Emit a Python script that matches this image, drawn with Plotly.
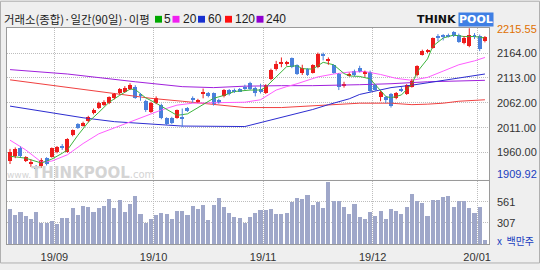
import plotly.graph_objects as go

# ---------------- data ----------------
OPEN = [1942, 1952, 1968, 1943, 1937, 1930, 1931, 1948, 1951, 1961,
        1972, 1961, 1995, 2018, 2015, 2025, 2041, 2051, 2057, 2061,
        2071, 2081, 2085, 2090, 2095, 2080, 2066, 2043, 2061, 2058,
        2030, 2031, 2031, 2033, 2051, 2071, 2064, 2080, 2081, 2081,
        2068, 2075, 2088, 2089, 2090, 2094, 2103, 2093, 2091, 2082,
        2110, 2131, 2142, 2142, 2153, 2139, 2124, 2131, 2124, 2135,
        2161, 2149, 2139, 2121, 2098, 2118, 2128, 2133, 2121, 2126,
        2098, 2073, 2073, 2080, 2071, 2090, 2080, 2095, 2118, 2161,
        2167, 2175, 2199, 2200, 2202, 2207, 2202, 2185, 2178, 2200,
        2200, 2188]
HIGH = [1967, 1970, 1972, 1952, 1945, 1934, 1948, 1950, 1970, 1973,
        1977, 1989, 2007, 2020, 2023, 2035, 2050, 2064, 2067, 2075,
        2082, 2092, 2096, 2102, 2098, 2082, 2068, 2064, 2075, 2060,
        2032, 2033, 2048, 2050, 2053, 2075, 2070, 2091, 2084, 2083,
        2070, 2090, 2090, 2091, 2092, 2099, 2105, 2095, 2101, 2100,
        2132, 2148, 2155, 2148, 2155, 2141, 2140, 2133, 2141, 2165,
        2165, 2155, 2141, 2123, 2105, 2124, 2130, 2138, 2128, 2128,
        2100, 2086, 2076, 2082, 2084, 2094, 2100, 2111, 2139, 2171,
        2172, 2196, 2203, 2203, 2204, 2209, 2204, 2199, 2215, 2205,
        2202, 2199]
LOW = [1936, 1948, 1950, 1940, 1930, 1921, 1928, 1933, 1949, 1958,
       1965, 1959, 1993, 2008, 2013, 2022, 2038, 2049, 2055, 2059,
       2069, 2079, 2083, 2088, 2070, 2066, 2043, 2041, 2059, 2028,
       2016, 2018, 2029, 2012, 2043, 2062, 2062, 2071, 2073, 2056,
       2060, 2073, 2077, 2082, 2084, 2088, 2088, 2075, 2081, 2080,
       2108, 2128, 2135, 2138, 2133, 2119, 2119, 2117, 2122, 2133,
       2149, 2140, 2122, 2088, 2093, 2116, 2116, 2124, 2115, 2083,
       2086, 2065, 2061, 2052, 2069, 2084, 2078, 2093, 2116, 2159,
       2164, 2173, 2188, 2190, 2196, 2197, 2185, 2182, 2176, 2193,
       2168, 2186]
CLOSE = [1961, 1966, 1953, 1950, 1939, 1927, 1945, 1936, 1968, 1971,
         1970, 1988, 2005, 2011, 2021, 2033, 2048, 2062, 2064, 2073,
         2080, 2090, 2093, 2099, 2072, 2076, 2046, 2062, 2072, 2031,
         2019, 2021, 2046, 2030, 2045, 2069, 2068, 2082, 2075, 2060,
         2062, 2088, 2079, 2084, 2086, 2092, 2091, 2082, 2084, 2098,
         2130, 2141, 2144, 2144, 2135, 2122, 2134, 2119, 2139, 2163,
         2159, 2151, 2124, 2095, 2101, 2122, 2118, 2126, 2125, 2086,
         2088, 2084, 2069, 2056, 2082, 2088, 2098, 2106, 2137, 2169,
         2169, 2194, 2197, 2198, 2198, 2200, 2187, 2194, 2202, 2198,
         2172, 2197]
VOLUME = [475, 405, 440, 393, 354, 440, 307, 307, 334, 295,
          366, 373, 495, 405, 514, 506, 443, 490, 514, 600,
          495, 589, 436, 537, 639, 412, 314, 354, 401, 424,
          412, 354, 451, 451, 405, 514, 475, 522, 342, 522,
          608, 502, 432, 385, 366, 307, 385, 432, 463, 470,
          483, 412, 418, 432, 561, 612, 603, 647, 522, 561,
          495, 803, 580, 580, 502, 412, 533, 381, 354, 440,
          393, 451, 362, 475, 451, 412, 502, 655, 580, 549,
          393, 589, 589, 627, 639, 502, 569, 569, 495, 432,
          502, 104]

MONTH_START = [9, 28, 49, 70, 90]
MONTH_LABELS = ["19/09", "19/10", "19/11", "19/12", "20/01"]

PRICE_MAX = 2215.55
PRICE_MIN = 1909.92
PRICE_TICKS = [2164, 2113, 2062, 2011, 1960]
PRICE_TICK_TEXT = ["2164.00", "2113.00", "2062.00", "2011.00", "1960.00"]
VOL_TICKS = [561, 307]
VOL_TICK_TEXT = ["561", "307"]
VOL_UNIT = "x  백만주"

TITLE = "거래소(종합)·일간(90일)·이평"
MA_NAMES = ["5", "20", "60", "120", "240"]

MA5_IDX = [0, 3, 6, 8, 10, 11, 13, 15, 17, 19, 21, 23, 24, 26, 28, 30, 32, 34, 36,
           39, 41, 43, 46, 48, 49, 51, 53, 55, 56, 58, 60, 62, 64, 65, 67, 69, 71,
           72, 73, 75, 77, 78, 80, 81, 83, 85, 87, 89, 91]
MA5_VAL = [1952, 1948, 1938, 1946, 1958, 1965, 1995, 2022, 2042, 2063, 2077, 2090,
           2089, 2072, 2061, 2048, 2036, 2039, 2052, 2071, 2077, 2085, 2088, 2088,
           2094, 2115, 2136, 2138, 2132, 2131, 2145, 2140, 2122, 2117, 2116, 2111,
           2088, 2075, 2072, 2078, 2100, 2125, 2152, 2178, 2195, 2201, 2198, 2198,
           2195]
MA20_IDX = [0, 3, 6, 8, 11, 14, 17, 20, 23, 26, 29, 32, 35, 40, 45, 48, 51, 53, 55,
            59, 62, 65, 68, 71, 74, 77, 80, 83, 86, 89, 91]
MA20_VAL = [1985, 1965, 1940, 1942, 1955, 1978, 1998, 2010, 2022, 2035, 2047, 2057,
            2061, 2062, 2063, 2068, 2088, 2095, 2101, 2115, 2121, 2125, 2126, 2120,
            2112, 2108, 2114, 2127, 2140, 2148, 2155]
MA60_IDX = [0, 8, 14, 20, 27, 33, 45, 48, 52, 55, 58, 61, 65, 67, 70, 73, 77, 80,
            83, 86, 91]
MA60_VAL = [2055, 2041, 2031, 2023, 2018, 2014, 2013, 2021, 2032, 2040, 2048, 2058,
            2070, 2079, 2086, 2093, 2098, 2103, 2108, 2113, 2121]
MA120_IDX = [0, 8, 17, 27, 33, 39, 45, 52, 58, 65, 67, 73, 77, 80, 83, 86, 91]
MA120_VAL = [2109, 2098, 2085, 2071, 2065, 2059, 2052, 2052, 2055, 2059, 2061, 2061,
             2058, 2059, 2061, 2065, 2068]
MA240_IDX = [0, 11, 24, 33, 39, 45, 52, 58, 67, 73, 80, 86, 91]
MA240_VAL = [2130, 2121, 2105, 2095, 2093, 2096, 2097, 2097, 2099, 2101, 2105, 2107,
             2108]

# ---------------- styling ----------------
W, H = 540, 270
ML, MR, MT, MB = 7, 51, 28, 20
PW, PH = W - ML - MR, H - MT - MB
RED, BLUE = "#ee1c1c", "#4a80dc"
MA_COLORS = ["#3cb43c", "#ff5cff", "#2c2cd0", "#f04040", "#a020dc"]
LEG_COLORS = ["#00a800", "#f020f0", "#1830d0", "#ff1010", "#9000d0"]
GRID = "#bdbdbd"
FONT = "Liberation Sans"


def pxx(px):
    return (px - ML) / PW


def pxy(py):
    return (H - MB - py) / PH


n = len(CLOSE)
idx = list(range(n))

fig = go.Figure()

# moving averages
ma_sets = [(MA5_IDX, MA5_VAL), (MA20_IDX, MA20_VAL), (MA60_IDX, MA60_VAL),
           (MA120_IDX, MA120_VAL), (MA240_IDX, MA240_VAL)]
for k in [4, 3, 2, 1, 0]:
    xs, ys = ma_sets[k]
    fig.add_trace(go.Scatter(x=xs, y=ys, mode="lines", line=dict(color=MA_COLORS[k], width=1),
                             xaxis="x", yaxis="y", hoverinfo="skip"))

# candles: wicks and bodies
for is_up, col in [(True, RED), (False, BLUE)]:
    wx, wy, bx, bb, bh = [], [], [], [], []
    for i in idx:
        o, h, l, c = OPEN[i], HIGH[i], LOW[i], CLOSE[i]
        if (c >= o) != is_up:
            continue
        wx += [i, i, None]
        wy += [l, h, None]
        bx.append(i)
        bb.append(min(o, c))
        bh.append(max(abs(c - o), 1.8))
    fig.add_trace(go.Scatter(x=wx, y=wy, mode="lines", line=dict(color=col, width=1),
                             xaxis="x", yaxis="y", hoverinfo="skip"))
    fig.add_trace(go.Bar(x=bx, y=bh, base=bb, width=0.76, marker=dict(color=col, line=dict(width=0)),
                         xaxis="x", yaxis="y", hoverinfo="skip"))

# volume
fig.add_trace(go.Bar(x=idx, y=VOLUME, width=0.78, marker=dict(color="#9fa7c9", line=dict(width=0)),
                     xaxis="x2", yaxis="y2", hoverinfo="skip"))

tickpos = [m - 0.5 for m in MONTH_START]
price_bottom_px, vol_top_px = 184, 185
p_lo = PRICE_MAX - (price_bottom_px - MT) * 2.0
common_x = dict(range=[-0.58, 91.78], tickvals=tickpos, showgrid=True, gridcolor=GRID,
                griddash="1px,1px", gridwidth=1, zeroline=False, showline=True, mirror=True,
                linecolor="#9a9a9a", linewidth=1, ticks="", fixedrange=True)
fig.update_layout(
    width=W, height=H, margin=dict(l=ML, r=MR, t=MT, b=MB, pad=0),
    paper_bgcolor="#efefef", plot_bgcolor="#ffffff", showlegend=False,
    barmode="overlay", bargap=0,
    xaxis=dict(common_x, domain=[0, 1], anchor="y", showticklabels=False),
    xaxis2=dict(common_x, domain=[0, 1], anchor="y2", showticklabels=True, ticktext=MONTH_LABELS,
                ticklabelstandoff=3,
                tickfont=dict(family=FONT, size=11, color="#333333")),
    yaxis=dict(domain=[pxy(price_bottom_px), 1], range=[p_lo, PRICE_MAX], tickvals=PRICE_TICKS,
               showticklabels=False, showgrid=True, gridcolor=GRID, griddash="1px,1px",
               zeroline=False, showline=True, mirror=True, linecolor="#9a9a9a", ticks=""),
    yaxis2=dict(domain=[0, pxy(vol_top_px)], range=[53, 815], tickvals=VOL_TICKS,
                showticklabels=False, showgrid=True, gridcolor=GRID, griddash="1px,1px",
                zeroline=False, showline=True, mirror=True, linecolor="#9a9a9a", ticks=""),
)

ann = []
lab_font = dict(family=FONT, size=11, color="#333333")
for v, t in zip(PRICE_TICKS, PRICE_TICK_TEXT):
    ann.append(dict(x=1, xref="paper", y=v, yref="y", text=t, xanchor="left", yanchor="middle",
                    xshift=6, showarrow=False, font=lab_font))
ann.append(dict(x=1, xref="paper", y=PRICE_MAX, yref="y", text=f"{PRICE_MAX:.2f}", xanchor="left",
                yanchor="middle", xshift=6, yshift=-1, showarrow=False,
                font=dict(family=FONT, size=11, color="#e07000")))
ann.append(dict(x=1, xref="paper", y=PRICE_MIN, yref="y", text=f"{PRICE_MIN:.2f}", xanchor="left",
                yanchor="middle", xshift=6, yshift=3, showarrow=False,
                font=dict(family=FONT, size=11, color="#2040c0")))
for v, t in zip(VOL_TICKS, VOL_TICK_TEXT):
    ann.append(dict(x=1, xref="paper", y=v, yref="y2", text=t, xanchor="left", yanchor="middle",
                    xshift=6, showarrow=False, font=lab_font))
ann.append(dict(x=1, xref="paper", y=pxy(246), yref="paper", text=VOL_UNIT, xanchor="left",
                yanchor="middle", xshift=6, showarrow=False,
                font=dict(family="Noto Sans CJK KR", size=10, color="#2040c0")))

# title and MA legend
ann.append(dict(x=pxx(2), xref="paper", y=pxy(19), yref="paper", text=TITLE, xanchor="left",
                yanchor="middle", showarrow=False,
                font=dict(family="Noto Sans CJK KR", size=11.4, color="#222222")))
sq_left = [155, 172.5, 198, 225, 256.5]
num_left = [162, 180.5, 206, 232.5, 264]
shapes = []
for name, col, sx, nx in zip(MA_NAMES, LEG_COLORS, sq_left, num_left):
    shapes.append(dict(type="rect", xref="paper", yref="paper", x0=pxx(sx), x1=pxx(sx + 7),
                       y0=pxy(22.5), y1=pxy(15.5), fillcolor=col, line=dict(width=0)))
    ann.append(dict(x=pxx(nx), xref="paper", y=pxy(19), yref="paper", text=name, xanchor="left",
                    yanchor="middle", showarrow=False, font=dict(family=FONT, size=12, color="#222222")))

# THINKPOOL logo
ann.append(dict(x=pxx(458), xref="paper", y=pxy(19), yref="paper", text="<b>THINK</b>", xanchor="right",
                yanchor="middle", showarrow=False, font=dict(family="DejaVu Sans", size=11, color="#111111")))
ann.append(dict(x=pxx(458), xref="paper", y=pxy(19), yref="paper", text="<b>POOL</b>", xanchor="left",
                yanchor="middle", showarrow=False, bgcolor="#3f7fe4", borderpad=0,
                font=dict(family="DejaVu Sans", size=11, color="#ffffff")))

# watermark
ann.append(dict(x=pxx(80), xref="paper", y=pxy(177), yref="paper",
                text="<span style='font-size:9px'>www.</span><b>THINKPOOL</b><span style='font-size:10px'>.com</span>",
                xanchor="center", yanchor="middle", showarrow=False,
                font=dict(family="DejaVu Sans", size=15, color="#d4d4d4")))

shapes.append(dict(type="rect", xref="paper", yref="paper", x0=pxx(0.5), x1=pxx(539.5),
                   y0=pxy(269.5), y1=pxy(0.5), line=dict(color="#b0b0b0", width=1), layer="below"))

fig.update_layout(annotations=ann, shapes=shapes)
fig.write_html("out.html", config={"displayModeBar": False})
